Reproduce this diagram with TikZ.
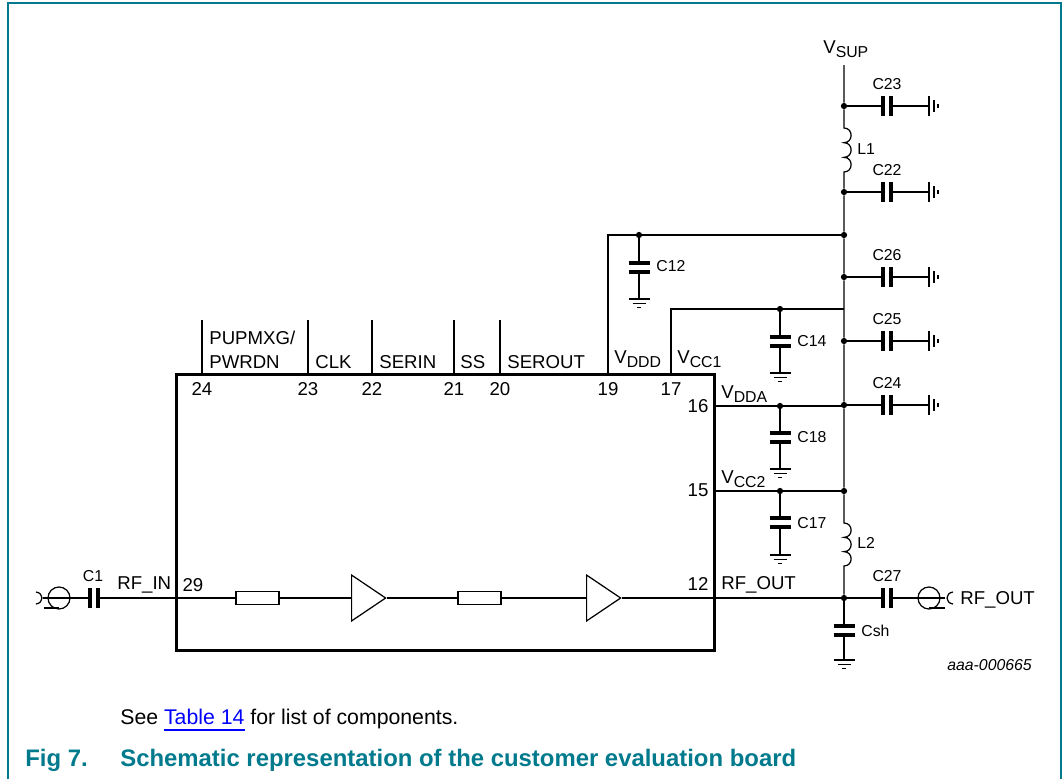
\documentclass[tikz,border=0pt]{standalone}
\usepackage{fontspec}
\setmainfont{Liberation Sans}
\usetikzlibrary{shapes.geometric}
\definecolor{figteal}{RGB}{0,122,140}
\newcommand{\subtxt}[1]{\raisebox{-0.42ex}{\fontsize{9}{10}\selectfont #1}}

\begin{document}
\begin{tikzpicture}
	[   x=0.02cm,y=-0.02cm,
		wire/.style={draw=black,line width=0.7pt},
		framewire/.style={draw=figteal,line width=1.1pt},
		dot/.style={circle,fill=black,inner sep=0pt,minimum size=0.125cm},
		lbl/.style={font=\fontsize{10.6}{12}\selectfont,inner sep=0pt,anchor=base west},
		pinno/.style={font=\fontsize{10.6}{12}\selectfont,inner sep=0pt,anchor=base},
		cname/.style={font=\fontsize{9}{11}\selectfont,inner sep=0pt,anchor=base},
	]
	\tikzset{plate/.style={line width=0.08cm},
		caph/.pic={
			\fill[white] (-4,-10) rectangle (4,10);
			\draw[plate] (-4,-10) -- (-4,10);
			\draw[plate] (4,-10) -- (4,10);
		},
		capv/.pic={
			\fill[white] (-10.5,-4.5) rectangle (10.5,4.5);
			\draw[plate] (-10.5,-4.5) -- (10.5,-4.5);
			\draw[plate] (-10.5,4.5) -- (10.5,4.5);
		},
		gndh/.pic={
			\draw[wire,line width=0.6pt] (0,-10) -- (0,10);
			\draw[wire,line width=0.6pt] (5,-6) -- (5,6);
			\draw[wire,line width=0.8pt] (9,-2) -- (9,2);
		},
		gndv/.pic={
			\draw[wire,line width=0.6pt] (-10.5,0) -- (10.5,0);
			\draw[wire,line width=0.6pt] (-6.5,4.5) -- (6.5,4.5);
			\draw[wire,line width=0.8pt] (-2,8.5) -- (2,8.5);
		}
	}
	\useasboundingbox (0,0) rectangle (1063,779);

	\coordinate (f-1) at (8,779);
	\coordinate (f-2) at (8,3);
	\coordinate (f-3) at (1061,3);
	\coordinate (f-4) at (1061,779);
	\draw[framewire] (f-1) -- (f-2) -- (f-3) -- (f-4);

	\node[draw=black,line width=1.7pt,minimum width=10.78cm,minimum height=5.54cm,inner sep=0pt] (ic) at (445.5,512.5) {};

	\foreach \x/\t in {24/202,23/308,22/372,21/454,20/500}
	{
		\coordinate (t-\x) at (\t,320);
		\coordinate (p-\x) at (\t,373);
		\draw[wire] (t-\x) -- (p-\x);
		\node[pinno] (n-\x) at (\t,395) {\x};
	}
	\node[pinno] (n-19) at (608,395) {19};
	\node[pinno] (n-17) at (671,395) {17};

	\node[lbl] (l-pup) at (209,344) {PUPMXG/};
	\node[lbl] (l-pwr) at (209,368) {PWRDN};
	\node[lbl] (l-clk) at (315,368) {CLK};
	\node[lbl] (l-ser) at (379,368) {SERIN};
	\node[lbl] (l-ss) at (460,368) {SS};
	\node[lbl] (l-sro) at (507,368) {SEROUT};
	\node[lbl] (l-ddd) at (614,363) {V\subtxt{DDD}};
	\node[lbl] (l-cc1) at (677,363) {V\subtxt{CC1}};
	\node[lbl] (l-dda) at (721,398) {V\subtxt{DDA}};
	\node[lbl] (l-cc2) at (721,483) {V\subtxt{CC2}};
	\node[lbl] (l-out) at (721,589) {RF\_OUT};
	\node[lbl] (l-in) at (117,589) {RF\_IN};
	\node[lbl] (l-sup) at (823,53) {V\subtxt{SUP}};
	\node[lbl] (l-rf) at (960,604) {RF\_OUT};
	\node[pinno] (n-16) at (698,412) {16};
	\node[pinno] (n-15) at (698,496) {15};
	\node[pinno] (n-12) at (698,590) {12};
	\node[pinno] (n-29) at (193,591) {29};

	% supply rail
	\coordinate (vsup) at (844,65);
	\foreach \n/\y in {23/106,22/192,26/277,25/341,24/405}
	{
		\node[dot] (d-\n) at (844,\y) {};
		\coordinate (c-\n) at (887,\y);
		\coordinate (g-\n) at (929,\y);
		\draw[wire] (d-\n) -- (g-\n);
		\pic at (c-\n) {caph};
		\pic at (g-\n) {gndh};
		\node[cname] (l-\n) at (887,\y-16.5) {C\n};
	}
	\foreach \n/\x/\a/\b/\c/\t in {12/639/235/267/299/271,14/780/309/341/373/346,18/780/406/437.5/469/442,17/780/491/522.5/555/528,sh/844/598/630/660/636}
	{
		\node[dot] (d-\n) at (\x,\a) {};
		\coordinate (c-\n) at (\x,\b);
		\coordinate (g-\n) at (\x,\c);
		\draw[wire] (d-\n) -- (g-\n);
		\pic at (c-\n) {capv};
		\pic at (g-\n) {gndv};
		\node[cname,anchor=base west] (l-\n) at (\x+17,\t) {C\n};
	}

	\coordinate (l1-a) at (844,128);
	\coordinate (l1-b) at (844,172);
	\coordinate (l2-a) at (844,523);
	\coordinate (l2-b) at (844,566);
	\coordinate (j-1) at (844,235);
	\coordinate (j-2) at (844,309);
	\coordinate (j-3) at (844,406);
	\coordinate (j-4) at (844,491);
	\node[dot] (d-rail1) at (j-1) {};
	\node[dot] (d-rail2) at (j-4) {};
	\draw[wire] (vsup) -- (d-23) -- (l1-a)
		.. controls +(9.5,0) and +(9.5,0) .. ++(0,14.67)
		.. controls +(9.5,0) and +(9.5,0) .. ++(0,14.67)
		.. controls +(9.5,0) and +(9.5,0) .. (l1-b)
		-- (d-22) -- (d-rail1) -- (d-26) -- (j-2) -- (d-25) -- (d-24) -- (d-rail2) -- (l2-a)
		.. controls +(9.5,0) and +(9.5,0) .. ++(0,14.33)
		.. controls +(9.5,0) and +(9.5,0) .. ++(0,14.33)
		.. controls +(9.5,0) and +(9.5,0) .. (l2-b)
		-- (d-sh);
	\node[cname,anchor=base west] (l-l1) at (857,154) {L1};
	\node[cname,anchor=base west] (l-l2) at (857,548) {L2};

	\coordinate (p-19) at (608,373);
	\coordinate (p-17) at (671,373);
	\coordinate (b-19) at (608,235);
	\coordinate (b-17) at (671,309);
	\draw[wire] (p-19) -- (b-19) -- (d-12) -- (d-rail1);
	\draw[wire] (p-17) -- (b-17) -- (d-14) -- (j-2);

	\coordinate (p-16) at (715,406);
	\coordinate (p-15) at (715,491);
	\coordinate (p-12) at (715,598);
	\coordinate (p-29) at (176,598);
	\draw[wire] (p-16) -- (d-18) -- (j-3);
	\draw[wire] (p-15) -- (d-17) -- (d-rail2);

	% amplifier chain
	\tikzset{resbox/.style={draw=black,line width=0.7pt,minimum width=0.86cm,minimum height=0.27cm,inner sep=0pt},
		ampbox/.style={draw=black,line width=0.7pt,isosceles triangle,isosceles triangle apex angle=68,minimum height=0.68cm,inner sep=0pt,anchor=lower side}}
	\node[resbox] (r-1) at (257.5,598) {};
	\node[resbox] (r-2) at (479.5,598) {};
	\node[ampbox] (a-1) at (351,598) {};
	\node[ampbox] (a-2) at (586,598) {};
	\draw[wire] (p-29) -- (r-1);
	\draw[wire] (r-1) -- (a-1.lower side);
	\draw[wire] (a-1.apex) -- (r-2);
	\draw[wire] (r-2) -- (a-2.lower side);
	\draw[wire] (a-2.apex) -- (p-12) -- (d-sh);

	% rf ports
	\tikzset{portring/.style={draw=black,line width=0.7pt,circle,minimum size=0.44cm,inner sep=0pt}}
	\node[portring] (o-in) at (59,598) {};
	\node[portring] (o-out) at (929,598) {};
	\coordinate (w-in) at (43,598);
	\coordinate (w-out) at (945,598);
	\coordinate (u-in) at (44,608);
	\coordinate (u-out) at (945,608);
	\coordinate (v-in) at (59,608);
	\coordinate (v-out) at (929,608);
	\coordinate (s-in) at (36,592);
	\coordinate (e-in) at (36,604);
	\coordinate (s-out) at (953,592);
	\coordinate (e-out) at (953,604);
	\coordinate (c-1) at (93.5,598);
	\coordinate (c-27) at (887,598);
	\draw[wire] (w-in) -- (p-29);
	\draw[wire] (d-sh) -- (w-out);
	\draw[wire] (u-in) -- (v-in);
	\draw[wire] (v-out) -- (u-out);
	\draw[wire] (s-in) .. controls +(8,1) and +(8,-1) .. (e-in);
	\draw[wire] (s-out) .. controls +(-8,1) and +(-8,-1) .. (e-out);
	\pic at (c-1) {caph};
	\pic at (c-27) {caph};
	\node[cname] (l-c1) at (93,581) {C1};
	\node[cname] (l-c27) at (887,581) {C27};

	\node[cname,anchor=base west,font=\fontsize{9}{11}\selectfont\itshape] (l-aaa) at (947,670) {aaa-000665};

	% caption
	\node[lbl,font=\fontsize{12.1}{14}\selectfont] (l-see) at (120,724) {See \textcolor{blue}{Table 14} for list of components.};
	\coordinate (ul-a) at (164,730);
	\coordinate (ul-b) at (245,730);
	\draw[blue,line width=1.1pt] (ul-a) -- (ul-b);
	\node[lbl,font=\fontsize{13.6}{16}\selectfont\bfseries,text=figteal] (l-fig) at (25,766) {Fig 7.};
	\node[lbl,font=\fontsize{13.6}{16}\selectfont\bfseries,text=figteal] (l-cap) at (120,766) {Schematic representation of the customer evaluation board};
\end{tikzpicture}
\end{document}
